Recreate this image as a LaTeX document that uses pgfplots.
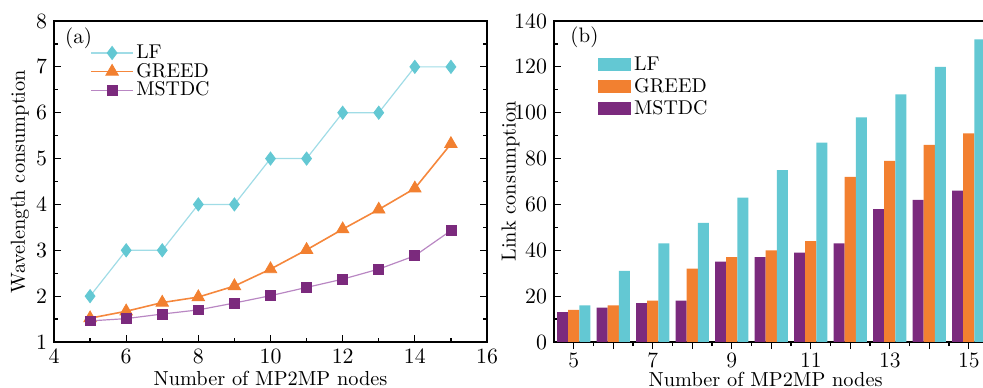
\documentclass[border=0pt]{standalone}
\usepackage{pgfplots}
\pgfplotsset{compat=1.18}
\definecolor{cyanF}{RGB}{99,200,211}
\definecolor{orangeF}{RGB}{242,128,48}
\definecolor{purpleF}{RGB}{123,42,125}
\definecolor{cyanL}{RGB}{160,220,230}
\definecolor{orangeL}{RGB}{245,135,60}
\definecolor{purpleL}{RGB}{185,135,195}
\begin{document}
\begin{tikzpicture}
\pgfplotsset{
  common/.style={
    scale only axis, anchor=south west,
    axis line style={line width=0.8pt},
    every tick/.style={black, line width=0.6pt},
    major tick length=3.5bp, minor tick length=2bp,
    tick align=inside,
    tick label style={font=\fontsize{11}{13}\selectfont},
    label style={font=\fontsize{10.2}{12}\selectfont},
  }
}
% ---------------- (a)
\begin{axis}[common,
  at={(27bp,23bp)}, width=216.5bp, height=160.5bp,
  xmin=4, xmax=16, ymin=1, ymax=8,
  xtick={4,6,...,16}, ytick={1,...,8},
  minor x tick num=1, minor y tick num=1,
  xtick pos=bottom, ytick pos=both,
  xlabel={Number of MP2MP nodes},
  ylabel={Wavelength consumption},
  xlabel style={at={(axis description cs:0.5,-0.115)}, anchor=center},
  ylabel style={at={(axis description cs:-0.079,0.5)}, anchor=center, rotate=0},
  legend style={at={(axis description cs:0.083,0.935)}, anchor=north west,
     draw=none, fill=none, inner sep=0pt, row sep=-1.5pt,
     font=\fontsize{10}{12}\selectfont, nodes={inner sep=1.2pt}},
  legend cell align=left,
  legend image code/.code={\draw[#1, mark repeat=2, mark phase=2] plot coordinates {(0cm,0cm)(0.37cm,0cm)(0.74cm,0cm)};},
]
\addplot[cyanL, line width=0.6pt, mark=diamond*, mark size=3.3pt,
  mark options={fill=cyanF, draw=cyanF, line width=0.4pt}] coordinates {
(5,2)(6,3)(7,3)(8,4)(9,4)(10,5)(11,5)(12,6)(13,6)(14,7)(15,7)};
\addlegendentry{LF}
\addplot[orangeL, line width=0.8pt, mark=triangle*, mark size=3.6pt,
  mark options={fill=orangeF, draw=orangeF, line width=0.4pt}] coordinates {
(5,1.52)(6,1.67)(7,1.86)(8,1.98)(9,2.22)(10,2.59)(11,3.01)(12,3.46)(13,3.89)(14,4.35)(15,5.32)};
\addlegendentry{GREED}
\addplot[purpleL, line width=0.6pt, mark=square*, mark size=2.5pt,
  mark options={fill=purpleF, draw=purpleF, line width=0.4pt}] coordinates {
(5,1.46)(6,1.51)(7,1.61)(8,1.70)(9,1.85)(10,2.01)(11,2.19)(12,2.37)(13,2.59)(14,2.88)(15,3.43)};
\addlegendentry{MSTDC}
\node[anchor=west, inner sep=0pt, font=\fontsize{10.5}{12}\selectfont] at (axis description cs:0.025,0.947) {(a)};
\end{axis}
% ---------------- (b)
\begin{axis}[common,
  at={(277bp,23bp)}, width=217.25bp, height=160.5bp,
  xmin=4.5, xmax=15.5, ymin=0, ymax=140,
  xtick={5,...,15}, xticklabels={5,,7,,9,,11,,13,,15},
  minor x tick num=1,
  ytick={0,20,...,140}, minor y tick num=1,
  xtick pos=bottom, ytick pos=left,
  xticklabel style={yshift=1.5bp},
  xlabel={Number of MP2MP nodes},
  ylabel={Link consumption},
  xlabel style={at={(axis description cs:0.487,-0.118)}, anchor=center},
  ylabel style={at={(axis description cs:-0.100,0.5)}, anchor=center, rotate=0},
  ybar, bar width=0.28,
  legend style={at={(axis description cs:0.101,0.90)}, anchor=north west,
     draw=none, fill=none, inner sep=0pt, row sep=-0.5pt,
     font=\fontsize{10}{12}\selectfont, nodes={inner sep=1.5pt}},
  legend cell align=left, reverse legend,
  legend image code/.code={\fill[#1] (0cm,-0.115cm) rectangle (0.58cm,0.115cm);},
]
\addplot[fill=purpleF, draw=none, bar shift=-0.28] coordinates {
(5,13)(6,15)(7,17)(8,18)(9,35)(10,37)(11,39)(12,43)(13,58)(14,62)(15,66)};
\addlegendentry{MSTDC}
\addplot[fill=orangeF, draw=none, bar shift=0] coordinates {
(5,14)(6,16)(7,18)(8,32)(9,37)(10,40)(11,44)(12,72)(13,79)(14,86)(15,91)};
\addlegendentry{GREED}
\addplot[fill=cyanF, draw=none, bar shift=0.28] coordinates {
(5,16)(6,31)(7,43)(8,52)(9,63)(10,75)(11,87)(12,98)(13,108)(14,120)(15,132)};
\addlegendentry{LF}
\node[anchor=west, inner sep=0pt, font=\fontsize{10.5}{12}\selectfont] at (axis description cs:0.037,0.95) {(b)};
\end{axis}
\pgfresetboundingbox
\useasboundingbox (0,0) rectangle (491.5bp,194bp);
\end{tikzpicture}
\end{document}
